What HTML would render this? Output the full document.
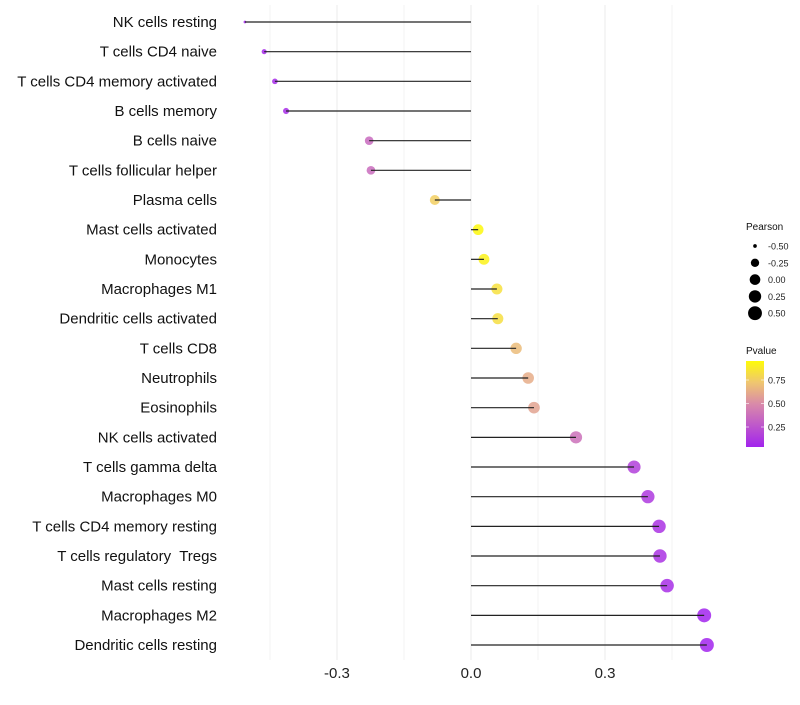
<!DOCTYPE html>
<html><head><meta charset="utf-8"><style>
body{margin:0;background:#fff;font-family:"Liberation Sans",sans-serif}
text{white-space:pre}
</style></head><body>
<svg id="c" width="800" height="700" xmlns="http://www.w3.org/2000/svg"></svg>
<script>
const categories=["NK cells resting","T cells CD4 naive","T cells CD4 memory activated","B cells memory","B cells naive","T cells follicular helper","Plasma cells","Mast cells activated","Monocytes","Macrophages M1","Dendritic cells activated","T cells CD8","Neutrophils","Eosinophils","NK cells activated","T cells gamma delta","Macrophages M0","T cells CD4 memory resting","T cells regulatory  Tregs","Mast cells resting","Macrophages M2","Dendritic cells resting"];
const pearson=[-0.506,-0.463,-0.439,-0.414,-0.228,-0.224,-0.081,0.016,0.029,0.058,0.060,0.101,0.128,0.141,0.235,0.365,0.396,0.421,0.423,0.439,0.522,0.528];
const pvalues=[0.03,0.04,0.05,0.06,0.35,0.36,0.78,0.97,0.94,0.86,0.85,0.7,0.64,0.6,0.38,0.15,0.12,0.09,0.09,0.07,0.02,0.02];
const xTicks=[-0.3,0,0.3];
const xTickLabels=["-0.3","0.0","0.3"];
const sizeLegend=[-0.5,-0.25,0,0.25,0.5];
const pLegend=[0.75,0.5,0.25];
const NS="http://www.w3.org/2000/svg",svg=document.getElementById('c');
function el(t,a,p){const e=document.createElementNS(NS,t);for(const k in a)e.setAttribute(k,a[k]);(p||svg).appendChild(e);return e;}
const xs=v=>471+v*446.7;
const ys=i=>22+i*29.667;
const pmin=Math.min(...pearson),pmax=Math.max(...pearson);
const rs=v=>{const t=Math.max(0,Math.min(1,(v-pmin)/(pmax-pmin)));return 1.4+5.6*Math.sqrt(t);};
function col(p){const s=[[0,[160,32,240]],[0.5,[217,138,169]],[0.75,[240,200,110]],[1,[255,255,0]]];
for(let i=0;i<s.length-1;i++){if(p<=s[i+1][0]){const t=(p-s[i][0])/(s[i+1][0]-s[i][0]);const c=s[i][1].map((a,j)=>Math.round(a+t*(s[i+1][1][j]-a)));return `rgb(${c})`;}}return 'rgb(255,255,0)';}
[-0.45,-0.15,0.15,0.45].forEach(v=>{const g=el('line',{x1:xs(v),x2:xs(v),y1:5,y2:660,stroke:'#f3f3f3','stroke-width':1});});
xTicks.forEach((v,i)=>{const g=el('line',{x1:xs(v),x2:xs(v),y1:5,y2:660,stroke:'#ebebeb','stroke-width':1});
const t=el('text',{x:xs(v),y:678,'text-anchor':'middle','font-size':15,fill:'#222'});t.textContent=xTickLabels[i];});
categories.forEach((c,i)=>{const y=ys(i);
const t=el('text',{x:217,y:y+5,'text-anchor':'end','font-size':15,fill:'#111'});t.textContent=c;
const p=el('circle',{cx:xs(pearson[i]),cy:y,r:rs(pearson[i]),fill:col(pvalues[i]),'fill-opacity':0.85});
const l=el('line',{x1:xs(0),x2:xs(pearson[i]),y1:y,y2:y,stroke:'#222','stroke-width':1.2});});
let t=el('text',{x:746,y:230,'font-size':10,fill:'#111'});t.textContent='Pearson';
sizeLegend.forEach((v,i)=>{const y=246+i*16.8;const c=el('circle',{cx:755,cy:y,r:rs(v),fill:'#000'});
const tt=el('text',{x:768,y:y+3.5,'font-size':9,fill:'#222'});tt.textContent=v.toFixed(2);});
t=el('text',{x:746,y:354,'font-size':10,fill:'#111'});t.textContent='Pvalue';
const defs=el('defs',{});const lg=el('linearGradient',{id:'g',x1:0,y1:1,x2:0,y2:0},defs);
[0,0.25,0.5,0.75,1].forEach(o=>el('stop',{offset:o,'stop-color':col(0.02+o*0.96)},lg));
const bar=el('rect',{x:746,y:361,width:18,height:86,fill:'url(#g)'});
pLegend.forEach(v=>{const y=450.5-v*94;el('line',{x1:746,x2:749,y1:y,y2:y,stroke:'#fff','stroke-opacity':0.6});el('line',{x1:761,x2:764,y1:y,y2:y,stroke:'#fff','stroke-opacity':0.6});
const tt=el('text',{x:768,y:y+3.5,'font-size':9,fill:'#222'});tt.textContent=v.toFixed(2);});
</script>
</body></html>
